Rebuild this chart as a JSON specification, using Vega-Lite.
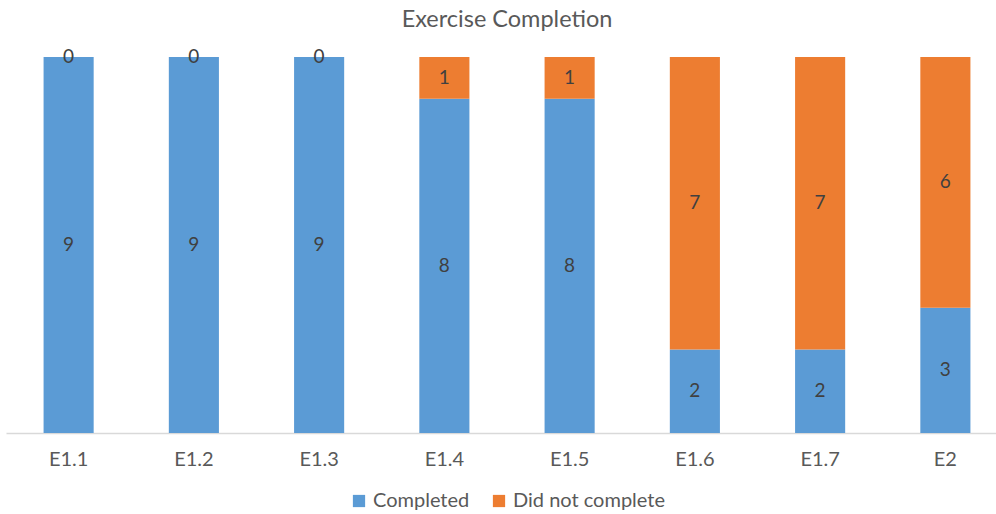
{
  "$schema": "https://vega.github.io/schema/vega-lite/v6.json",
  "autosize": {"type": "none"},
  "width": 1002,
  "height": 376,
  "padding": {"left": 6, "top": 57, "right": 0, "bottom": 81},
  "background": "white",
  "title": {
    "text": "Exercise Completion",
    "font": "Lato",
    "fontSize": 23.5,
    "fontWeight": "normal",
    "color": "#595959",
    "anchor": "middle",
    "baseline": "alphabetic",
    "offset": 29,
    "dy": 31
  },
  "config": {
    "view": {"stroke": null},
    "font": "Lato"
  },
  "data": {
    "values": [
      {"exercise": "E1.1", "status": "Completed", "count": 9},
      {"exercise": "E1.1", "status": "Did not complete", "count": 0},
      {"exercise": "E1.2", "status": "Completed", "count": 9},
      {"exercise": "E1.2", "status": "Did not complete", "count": 0},
      {"exercise": "E1.3", "status": "Completed", "count": 9},
      {"exercise": "E1.3", "status": "Did not complete", "count": 0},
      {"exercise": "E1.4", "status": "Completed", "count": 8},
      {"exercise": "E1.4", "status": "Did not complete", "count": 1},
      {"exercise": "E1.5", "status": "Completed", "count": 8},
      {"exercise": "E1.5", "status": "Did not complete", "count": 1},
      {"exercise": "E1.6", "status": "Completed", "count": 2},
      {"exercise": "E1.6", "status": "Did not complete", "count": 7},
      {"exercise": "E1.7", "status": "Completed", "count": 2},
      {"exercise": "E1.7", "status": "Did not complete", "count": 7},
      {"exercise": "E2", "status": "Completed", "count": 3},
      {"exercise": "E2", "status": "Did not complete", "count": 6}
    ]
  },
  "encoding": {
    "x": {
      "field": "exercise",
      "type": "nominal",
      "sort": null,
      "scale": {"paddingInner": 0.6, "paddingOuter": 0.3},
      "axis": {
        "title": null,
        "labelAngle": 0,
        "labelFont": "Lato",
        "labelFontSize": 20,
        "labelColor": "#595959",
        "labelPadding": 16,
        "ticks": false,
        "domainColor": "#d9d9d9",
        "domainWidth": 1.5
      }
    },
    "y": {
      "field": "count",
      "type": "quantitative",
      "stack": "zero",
      "scale": {"domain": [0, 9], "nice": false},
      "axis": null
    },
    "order": {"field": "status", "sort": "ascending"}
  },
  "layer": [
    {
      "mark": {"type": "bar"},
      "encoding": {
        "color": {
          "field": "status",
          "type": "nominal",
          "scale": {"domain": ["Completed", "Did not complete"], "range": ["#5B9BD5", "#ED7D31"]},
          "legend": {
            "title": null,
            "orient": "none",
            "legendX": 343,
            "legendY": 434,
            "direction": "horizontal",
            "symbolType": "square",
            "symbolSize": 150,
            "symbolStrokeWidth": 0,
            "labelFont": "Lato",
            "labelFontSize": 20,
            "labelColor": "#595959",
            "columnPadding": 19,
            "labelOffset": 4
          }
        }
      }
    },
    {
      "mark": {"type": "text", "font": "Lato", "fontSize": 19, "color": "#404040", "baseline": "middle"},
      "encoding": {
        "y": {"field": "count", "type": "quantitative", "stack": "zero", "bandPosition": 0.5},
        "detail": {"field": "status"},
        "text": {"field": "count", "type": "quantitative"}
      }
    }
  ]
}
